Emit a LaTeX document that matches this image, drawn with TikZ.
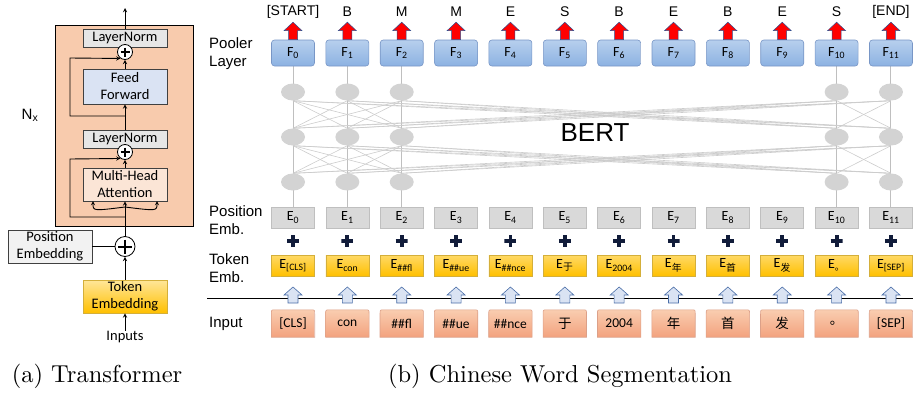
\documentclass[tikz,border=0pt]{standalone}
\usepackage{fontspec}
\newfontfamily\calibri{Carlito}
\newfontfamily\arial{Liberation Sans}
\newfontfamily\cjk{Noto Sans CJK SC}
\newfontfamily\capfont{lmroman10-regular}[Extension=.otf]
\usepackage{tikz}
\usetikzlibrary{shapes.geometric, arrows, positioning}

\definecolor{stackpeach}{HTML}{F8CBAD}
\definecolor{normgray}{HTML}{E6E6E6}
\definecolor{ffblue}{HTML}{DAE3F3}
\definecolor{mhapeach}{HTML}{FBE5D6}
\definecolor{posgray}{HTML}{F2F2F2}
\definecolor{tokentop}{HTML}{FFE699}
\definecolor{tokenbot}{HTML}{FFC000}
\definecolor{poolertop}{HTML}{B7CFED}
\definecolor{poolerbot}{HTML}{8CB2E2}
\definecolor{poolerline}{HTML}{7896C6}
\definecolor{arrowblue}{HTML}{2F4F8F}
\definecolor{neurongray}{HTML}{D3D3D3}
\definecolor{linkgray}{HTML}{BFBFBF}
\definecolor{embgray}{HTML}{D9D9D9}
\definecolor{plusnavy}{HTML}{111C3A}
\definecolor{goldtop}{HTML}{FFD966}
\definecolor{goldbot}{HTML}{FFC000}
\definecolor{goldline}{HTML}{D4AF3A}
\definecolor{hollowblue}{HTML}{DAE3F3}
\definecolor{hollowline}{HTML}{4A6EA8}
\definecolor{inputtop}{HTML}{F9CDB0}
\definecolor{inputbot}{HTML}{F3A27E}
\definecolor{inputline}{HTML}{DCA088}

\tikzstyle{block} = [
  rectangle,
  minimum width=84pt,
  inner sep=0pt,
  align=center,
  draw=black!75,
  line width=0.8pt,
  font=\calibri\fontsize{14.5}{17}\selectfont
]
\tikzstyle{normbox} = [block, minimum height=18pt, fill=normgray]
\tikzstyle{addop} = [
  circle,
  minimum size=15pt,
  inner sep=0pt,
  draw=black,
  fill=white,
  line width=0.8pt,
  path picture={
    \draw[line width=2pt, shorten <=3pt, shorten >=3pt]
      (path picture bounding box.west) -- (path picture bounding box.east);
    \draw[line width=2pt, shorten <=3pt, shorten >=3pt]
      (path picture bounding box.north) -- (path picture bounding box.south);
  }
]
\tikzstyle{plain} = [inner sep=0pt, font=\calibri\fontsize{14.5}{17}\selectfont]
\tikzstyle{arrow} = [line width=0.9pt, ->, >=stealth]
\tikzstyle{wire} = [line width=0.9pt]

\tikzstyle{outlabel} = [inner sep=0pt, font=\arial\fontsize{14}{16}\selectfont]
\tikzstyle{sidelabel} = [
  anchor=west,
  align=left,
  inner sep=0pt,
  font=\arial\fontsize{15}{18}\selectfont
]
\tikzstyle{redarrow} = [fill=red, draw=arrowblue, line width=0.5pt, line join=miter]
\tikzstyle{hollowarrow} = [fill=hollowblue, draw=hollowline, line width=0.6pt, line join=miter]
\tikzstyle{pooler} = [
  rectangle,
  rounded corners=3pt,
  minimum width=43pt,
  minimum height=26pt,
  inner sep=0pt,
  top color=poolertop,
  bottom color=poolerbot,
  draw=poolerline,
  line width=0.6pt,
  font=\calibri\fontsize{14}{16}\selectfont
]
\tikzstyle{posbox} = [
  rectangle,
  minimum width=43pt,
  minimum height=21pt,
  inner sep=0pt,
  fill=embgray,
  draw=linkgray,
  line width=0.6pt,
  font=\calibri\fontsize{14}{16}\selectfont
]
\tikzstyle{tokbox} = [
  posbox,
  top color=goldtop,
  bottom color=goldbot,
  draw=goldline
]
\tikzstyle{inbox} = [
  minimum width=43pt,
  minimum height=27pt,
  inner sep=0pt,
  font=\calibri\fontsize{13.5}{16}\selectfont
]
\tikzstyle{inshape} = [top color=inputtop, bottom color=inputbot, draw=inputline, line width=0.6pt]
\tikzstyle{plussign} = [
  minimum size=12pt,
  inner sep=0pt,
  path picture={
    \draw[plusnavy, line width=3.8pt]
      (path picture bounding box.west) -- (path picture bounding box.east);
    \draw[plusnavy, line width=3.8pt]
      (path picture bounding box.north) -- (path picture bounding box.south);
  }
]
\tikzstyle{neuron} = [ellipse, minimum width=24pt, minimum height=17pt, inner sep=0pt, fill=neurongray]
\tikzstyle{link} = [draw=linkgray, line width=1pt]
\tikzstyle{web} = [draw=linkgray!80, line width=0.6pt]
\tikzstyle{caption} = [inner sep=0pt, font=\capfont\fontsize{24.5}{30}\selectfont]

\pgfdeclarelayer{background}
\pgfsetlayers{background,main}

\begin{document}
\begin{tikzpicture}[x=1pt, y=1pt]
  \useasboundingbox (0,0) rectangle (913,-394);

  % (a) transformer block
  \node (stack) [rectangle, minimum width=138pt, minimum height=201pt, fill=stackpeach, draw=black, line width=0.9pt] at (124,-125.5) {};
  \node (norm2) [normbox] at (125,-38) {LayerNorm};
  \node (ff) [block, minimum height=35pt, fill=ffblue] at (125,-86.5) {Feed\\Forward};
  \node (add2) [addop] at (125,-52) {};
  \node (norm1) [normbox] at (125,-139.5) {LayerNorm};
  \node (mha) [block, minimum height=33pt, fill=mhapeach] at (125,-184.5) {Multi-Head\\Attention};
  \node (add1) [addop] at (125,-152) {};
  \node (add0) [addop, minimum size=20pt] at (125,-246.5) {};
  \node (posemb) [block, minimum height=33pt, fill=posgray] at (50,-246.5) {Position\\Embedding};
  \node (tokemb) [block, minimum height=33pt, top color=tokentop, bottom color=tokenbot, draw=goldline] at (125,-296.5) {Token\\Embedding};
  \node (inputs) [plain] at (125,-337) {Inputs};
  \node (nx) [inner sep=0pt, font=\arial\fontsize{15}{18}\selectfont] at (30,-115) {N\textsubscript{x}};

  \coordinate (out) at (125,-8);
  \coordinate (skip1) at (125,-217);
  \coordinate (bend1) at (70,-159);
  \coordinate (skip2) at (125,-116);
  \coordinate (bend2) at (70,-58);
  \coordinate (fork) at (125,-207);
  \coordinate (headl) at (93,-201);
  \coordinate (headr) at (157,-201);

  \draw [arrow] (inputs) -- (tokemb);
  \draw [arrow] (tokemb) -- (add0);
  \draw [wire] (posemb) -- (add0);
  \draw [arrow] (add0) -- (mha);
  \draw [arrow] (fork) .. controls (93,-211) .. (headl);
  \draw [arrow] (fork) .. controls (157,-211) .. (headr);
  \draw [arrow] (skip1) -| (bend1) -- (add1.235);
  \draw [arrow] (mha) -- (add1);
  \draw [arrow] (norm1) -- (ff);
  \draw [arrow] (skip2) -| (bend2) -- (add2.235);
  \draw [arrow] (ff) -- (add2);
  \draw [arrow] (norm2) -- (out);

  % (b) BERT tagger
  \node (poolerlbl) [sidelabel] at (209,-54) {Pooler\\Layer};
  \node (poslbl) [sidelabel] at (209,-220) {Position\\Emb.};
  \node (toklbl) [sidelabel] at (209,-268.5) {Token\\Emb.};
  \node (inlbl) [sidelabel] at (209,-324) {Input};
  \node (bert) [inner sep=0pt, font=\arial\fontsize{26}{30}\selectfont] at (595,-133) {BERT};

  \coordinate (rulestart) at (207,-298);
  \coordinate (ruleend) at (913,-298);
  \draw [line width=0.9pt] (rulestart) -- (ruleend);

  \foreach \i/\ltag/\ltok in {0/[START]/[CLS], 1/B/con, 2/M/\#\#fl, 3/M/\#\#ue, 4/E/\#\#nce,
      5/S/{\cjk 于}, 6/B/2004, 7/E/{\cjk 年}, 8/B/{\cjk 首}, 9/E/{\cjk 发}, 10/S/{\cjk 。}, 11/[END]/[SEP]} {
    \pgfmathsetmacro{\xx}{293+54.36*\i}
    \node (tag\i) [outlabel] at (\xx,-12) {\ltag};
    \node (f\i) [pooler] at (\xx,-53) {F\textsubscript{\i}};
    \draw [redarrow] (f\i.north) ++(-4.5,0) -- ++(0,9) -- ++(-4.5,0) -- ++(9,8.5)
      -- ++(9,-8.5) -- ++(-4.5,0) -- ++(0,-9) -- cycle;
    \node (e\i) [posbox] at (\xx,-217.5) {E\textsubscript{\i}};
    \node (pl\i) [plussign] at (\xx,-241) {};
    \node (t\i) [tokbox] at (\xx,-265.5) {E\textsubscript{\ltok}};
    \coordinate (hb\i) at (\xx,-303);
    \draw [hollowarrow] (hb\i) ++(-5,0) -- ++(0,8) -- ++(-4,0) -- ++(9,8)
      -- ++(9,-8) -- ++(-4,0) -- ++(0,-8) -- cycle;
    \node (in\i) [inbox] at (\xx,-323.5) {\ltok};
  }

  \foreach \i in {0,1,2,10,11} {
    \pgfmathsetmacro{\xx}{293+54.36*\i}
    \foreach \r/\yy in {1/92,2/137,3/182}
      \node (n\r-\i) [neuron] at (\xx,-\yy) {};
  }

  \begin{pgfonlayer}{background}
    \foreach \i in {0,1,2,10,11}
      \draw [link] (f\i.south) -- (e\i.north);
    \foreach \r/\s in {1/2,2/3}
      \foreach \a in {0,1,2,10,11}
        \foreach \b in {0,1,2,10,11} {
          \ifnum\a=\b\relax\else
            \draw [web] (n\r-\a.south) -- (n\s-\b.north);
          \fi
        }
    \foreach \i in {0,...,11}
      \path [inshape] (in\i.south west) -- ([yshift=-4pt]in\i.north west)
        .. controls (in\i.north west) .. ([xshift=4pt]in\i.north west)
        -- ([xshift=-4pt]in\i.north east)
        .. controls (in\i.north east) .. ([yshift=-4pt]in\i.north east)
        -- (in\i.south east) -- cycle;
  \end{pgfonlayer}

  \node (capa) [caption] at (97,-376) {(a) Transformer};
  \node (capb) [caption] at (560,-376) {(b) Chinese Word Segmentation};
\end{tikzpicture}
\end{document}
